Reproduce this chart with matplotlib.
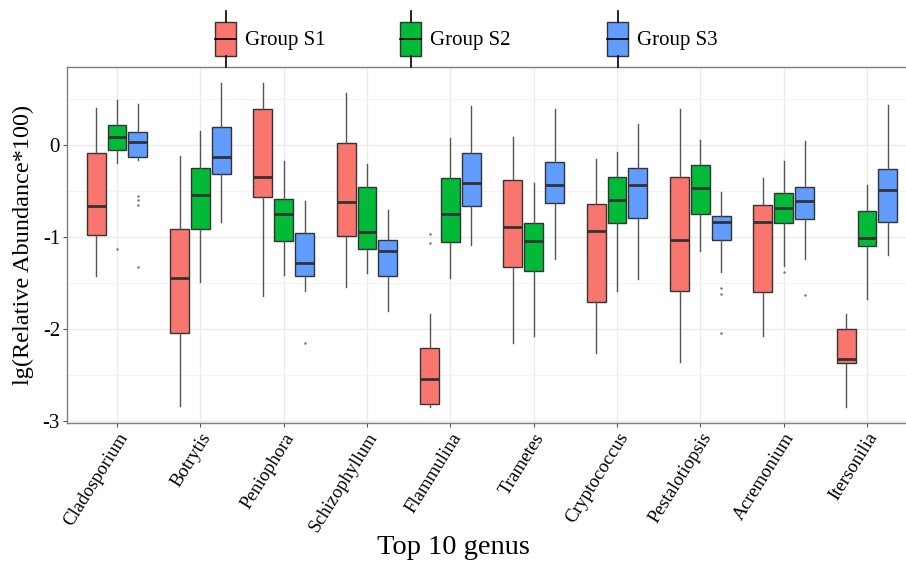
import matplotlib
matplotlib.use('Agg')
import matplotlib.pyplot as plt
from matplotlib.patches import Rectangle
from matplotlib.lines import Line2D
import numpy as np

genus = ['Cladosporium', 'Botrytis', 'Peniophora', 'Schizophyllum', 'Flammulina',
         'Trametes', 'Cryptococcus', 'Pestalotiopsis', 'Acremonium', 'Itersonilia']
groups = ['Group S1', 'Group S2', 'Group S3']
colors = ['#F8766D', '#00BA38', '#619CFF']

# box stats (lg scale)
s1_hi = [0.40, -0.12, 0.67, 0.57, -1.84, 0.09, -0.15, 0.39, -0.36, -1.84]
s1_q3 = [-0.09, -0.91, 0.39, 0.02, -2.21, -0.38, -0.64, -0.35, -0.65, -2.00]
s1_med = [-0.66, -1.45, -0.35, -0.62, -2.54, -0.89, -0.93, -1.03, -0.84, -2.33]
s1_q1 = [-0.98, -2.04, -0.57, -0.99, -2.81, -1.33, -1.71, -1.59, -1.60, -2.37]
s1_lo = [-1.42, -2.84, -1.64, -1.54, -2.85, -2.15, -2.26, -2.36, -2.07, -2.85]
s1_out = [[], [], [], [], [-0.97, -1.07], [], [], [], [], []]

s2_hi = [0.49, 0.15, -0.17, -0.21, 0.08, -0.41, -0.08, 0.05, -0.17, -0.43]
s2_q3 = [0.22, -0.25, -0.59, -0.46, -0.36, -0.85, -0.35, -0.22, -0.52, -0.72]
s2_med = [0.09, -0.54, -0.75, -0.94, -0.75, -1.04, -0.60, -0.47, -0.68, -1.01]
s2_q1 = [-0.06, -0.91, -1.04, -1.13, -1.05, -1.37, -0.85, -0.75, -0.85, -1.10]
s2_lo = [-0.20, -1.49, -1.41, -1.39, -1.44, -2.07, -1.59, -1.15, -1.31, -1.67]
s2_out = [[-1.13], [], [], [], [], [], [], [], [-1.38], []]

s3_hi = [0.44, 0.67, -0.61, -0.71, 0.42, 0.39, 0.23, -0.51, 0.04, 0.43]
s3_q3 = [0.14, 0.19, -0.96, -1.03, -0.09, -0.18, -0.25, -0.77, -0.46, -0.26]
s3_med = [0.03, -0.13, -1.28, -1.15, -0.41, -0.44, -0.44, -0.84, -0.61, -0.49]
s3_q1 = [-0.13, -0.32, -1.42, -1.42, -0.66, -0.63, -0.79, -1.03, -0.80, -0.84]
s3_lo = [-0.16, -0.84, -1.59, -1.80, -1.09, -1.24, -1.46, -1.38, -1.24, -1.19]
s3_out = [[-0.55, -0.60, -0.65, -1.33], [], [-2.15], [], [], [], [],
          [-1.55, -1.62, -2.04], [-1.63], []]

yticks = [0, -1, -2, -3]

series = [
    (s1_hi, s1_q3, s1_med, s1_q1, s1_lo, s1_out),
    (s2_hi, s2_q3, s2_med, s2_q1, s2_lo, s2_out),
    (s3_hi, s3_q3, s3_med, s3_q1, s3_lo, s3_out),
]

plt.rcParams['font.family'] = ['Liberation Serif', 'DejaVu Serif']

W, H = 906, 565
fig = plt.figure(figsize=(W / 100, H / 100), dpi=100)

def fx(px):
    return px / W

def fy(py):
    return 1 - py / H

# panel: left 67px, top 67px, bottom 423px, right runs off the image
ax = fig.add_axes([fx(67), fy(423), fx(917) - fx(67), fy(67) - fy(423)])

x = np.arange(1, len(genus) + 1)
offset = 0.25
bw = 0.225

for gi, (hi, q3, med, q1, lo, out) in enumerate(series):
    stats = []
    for i in range(len(genus)):
        stats.append(dict(med=med[i], q1=q1[i], q3=q3[i], whislo=lo[i],
                          whishi=hi[i], fliers=out[i]))
    pos = x + (gi - 1) * offset
    ax.bxp(stats, positions=pos, widths=bw, patch_artist=True,
           showcaps=False, manage_ticks=False,
           boxprops=dict(facecolor=colors[gi], edgecolor='#333333', linewidth=1.0),
           medianprops=dict(color='#333333', linewidth=2.0),
           whiskerprops=dict(color='#555555', linewidth=1.0),
           flierprops=dict(marker='o', markersize=0.8, markerfacecolor='#777777',
                           markeredgecolor='#777777', linestyle='none'),
           zorder=3)

ax.set_xlim(0.4, 10.6)
ax.set_ylim(-3.02, 0.847)
ax.set_xticks(x)
ax.set_xticklabels(genus, rotation=58, ha='right', rotation_mode='anchor', fontsize=13.5)
ax.set_yticks(yticks)
ax.set_yticklabels([str(v) if v >= 0 else '-' + str(-v) for v in yticks], fontsize=15)
ax.set_yticks([0.5, -0.5, -1.5, -2.5], minor=True)
ax.tick_params(axis='both', which='major', length=3, color='#555555', width=0.8, pad=2)
ax.tick_params(axis='y', which='minor', length=0)
ax.grid(True, which='major', color='#EBEBEB', linewidth=1.0, zorder=0)
ax.grid(True, which='minor', axis='y', color='#F2F2F2', linewidth=0.6, zorder=0)
ax.set_axisbelow(True)
for s in ax.spines.values():
    s.set_color('#7F7F7F')
    s.set_linewidth(1.0)

ax.set_ylabel('lg(Relative Abundance*100)', fontsize=17.5, labelpad=6)
fig.text(0.5, fy(548), 'Top 10 genus', ha='center', va='center', fontsize=20.5)

# legend at top, drawn as boxplot keys
key_x = [215, 400, 607]
for gi in range(3):
    kx = key_x[gi]
    kw = 21
    cx = kx + kw / 2
    fig.add_artist(Line2D([fx(cx), fx(cx)], [fy(11), fy(22)], color='black', lw=1.2,
                          transform=fig.transFigure))
    fig.add_artist(Line2D([fx(cx), fx(cx)], [fy(56), fy(67)], color='black', lw=1.2,
                          transform=fig.transFigure))
    fig.add_artist(Rectangle((fx(kx), fy(56)), fx(kw), fy(22) - fy(56),
                             facecolor=colors[gi], edgecolor='#333333', lw=1.0,
                             transform=fig.transFigure))
    fig.add_artist(Line2D([fx(kx), fx(kx + kw)], [fy(39), fy(39)], color='black', lw=1.2,
                          transform=fig.transFigure))
    fig.text(fx(kx + kw + 9), fy(40), groups[gi], ha='left', va='center', fontsize=15)

fig.savefig('out.png', dpi=100)
